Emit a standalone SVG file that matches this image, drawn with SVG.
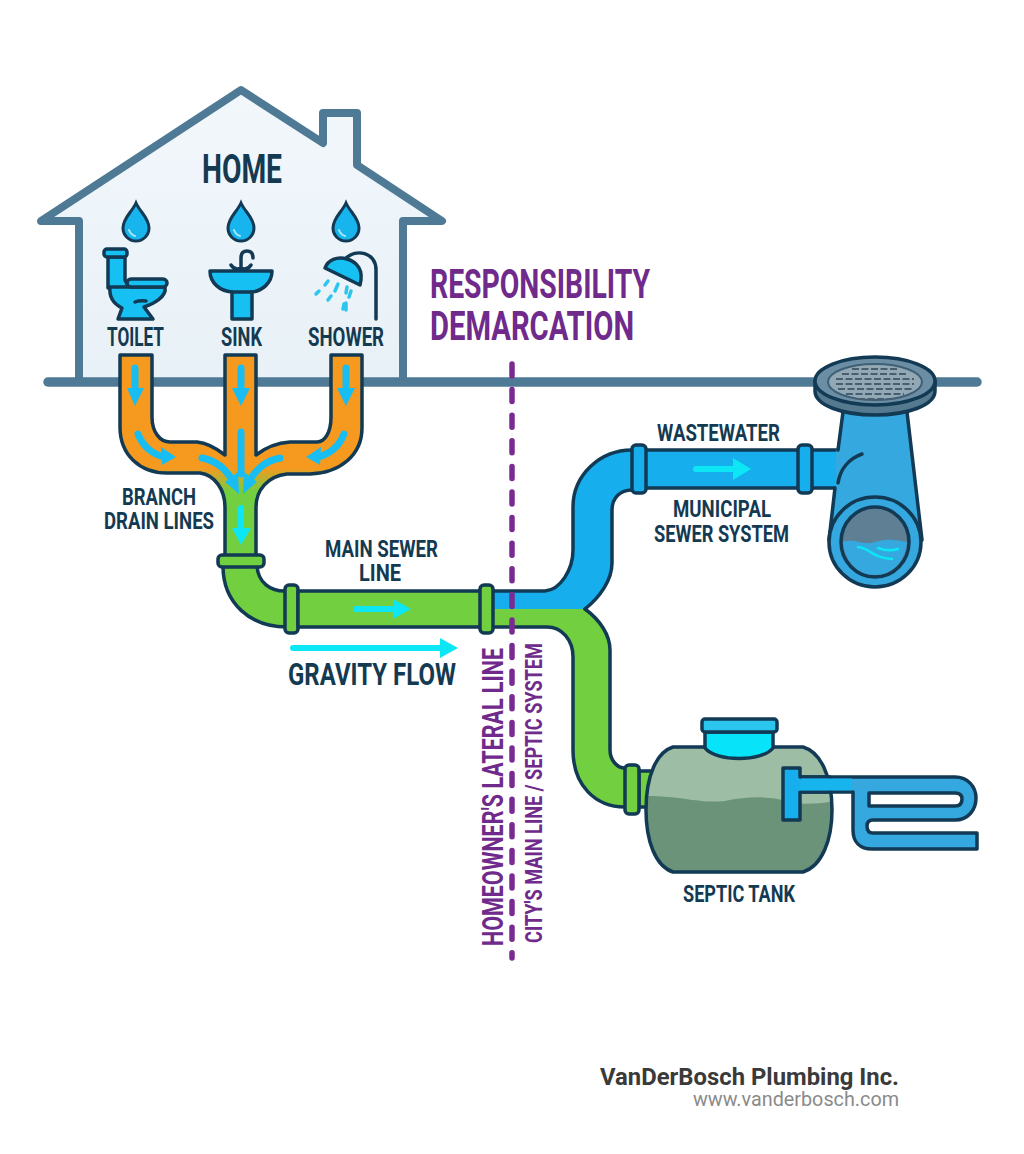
<svg xmlns="http://www.w3.org/2000/svg" width="1024" height="1154" viewBox="0 0 1024 1154">
<style>
  .ol{stroke:#123a55;stroke-width:3.5;stroke-linejoin:round;stroke-linecap:round}
  .line{fill:none;stroke:#123a55;stroke-width:3.5;stroke-linejoin:round;stroke-linecap:round}
  .lab{font-family:"Liberation Sans Narrow","Roboto","Liberation Sans",sans-serif;font-weight:700;fill:#143a52}
  .pur{font-family:"Liberation Sans Narrow","Roboto","Liberation Sans",sans-serif;font-weight:700;fill:#6f2a8c}
  .ic{fill:#17c0f2}
  .green{fill:#72cf3f}
  .blue{fill:#17aeee}
  .tip{fill:#18bdf2}
  .cy{fill:#0de6f5}
  .cyl{stroke:#0de6f5;stroke-width:6;stroke-linecap:round;fill:none}
  .bl{stroke:#18bdf2;stroke-width:7;stroke-linecap:round;fill:none}
</style>
<defs>
  <linearGradient id="drain" gradientUnits="userSpaceOnUse" x1="0" y1="468" x2="0" y2="492">
    <stop offset="0" stop-color="#f6991f"/><stop offset="1" stop-color="#72cf3f"/>
  </linearGradient>
  <linearGradient id="wall" x1="0" y1="0" x2="0" y2="1">
    <stop offset="0" stop-color="#f2f7fb"/><stop offset="1" stop-color="#e8f1f7"/>
  </linearGradient>
  <path id="drop" d="M0-19C4-10 13-4 13 6A13 13 0 0 1-13 6C-13-4-4-10 0-19Z" fill="#17b4ee" stroke="#123a55" stroke-width="3"/>
  <path id="drop-shine" d="M-7 8Q-5 13 -1 14" stroke="#a8e8fb" stroke-width="2" stroke-linecap="round" fill="none"/>
  <clipPath id="tank-shell"><path d="M673 747H803C820 752 832 775 832 810C832 840 822 866 803 872H673C655 866 646 840 646 810C646 775 657 752 673 747Z"/></clipPath>
</defs>
<rect width="1024" height="1154" fill="#fff"/>

<g id="house">
  <path d="M79 382V221H41L241 90L323 143V113H357V165L442 221H403V382Z" fill="url(#wall)" stroke="#4f7a96" stroke-width="8" stroke-linejoin="round"/>
</g>
<g id="ground">
  <path d="M48 382H977" stroke="#4f7a96" stroke-width="9.500" stroke-linecap="round" fill="none"/>
</g>
<text class="lab" x="202" y="183" font-size="40" textLength="80" lengthAdjust="spacingAndGlyphs">HOME</text>

<g id="toilet">
  <use href="#drop" x="136" y="222"/><use href="#drop-shine" x="136" y="222"/>
  <path class="ic ol" d="M108 257H125V280L129 288H108Z"/>
  <rect class="ic ol" x="104" y="249" width="23" height="8" rx="3"/>
  <path class="ic ol" d="M110 287H165C167 297 153 304 144 307L153 319H118L122 308C112 303 109 296 110 287Z"/>
  <rect class="ic ol" x="127" y="279" width="40" height="8" rx="4"/>
  <path class="line" d="M135 302Q140 300 146 301"/>
  <text class="lab" x="107" y="346" font-size="25" textLength="57" lengthAdjust="spacingAndGlyphs">TOILET</text>
</g>
<g id="sink">
  <use href="#drop" x="241" y="222"/><use href="#drop-shine" x="241" y="222"/>
  <path class="line" d="M241 271V258Q241 251 247 251Q253 251 253 258M231 265Q235 271 241 268Q247 271 251 265" stroke-width="3"/>
  <path class="ic ol" d="M210 271H272C272 283 262 291 252 292V319H232V292C220 291 210 283 210 271Z"/>
  <path class="line" d="M232 292H252"/>
  <text class="lab" x="221" y="346" font-size="25" textLength="41" lengthAdjust="spacingAndGlyphs">SINK</text>
</g>
<g id="shower">
  <use href="#drop" x="346" y="222"/><use href="#drop-shine" x="346" y="222"/>
  <path class="line" d="M376 319V270C376 252 356 248 345 259"/>
  <path class="ic ol" d="M325 268L360 285C364 270 357 262 347 259C337 256 328 260 325 268Z"/>
  <g stroke="#2cc5ee" stroke-width="3.500" stroke-linecap="round" fill="none">
    <path d="M328 281L325 285M338 284L335 291M347 287L346 293M351 291L349 297M316 294L319 291M331 296L328 300M344 304L343 309M346 303V310"/>
  </g>
  <text class="lab" x="308" y="346" font-size="25" textLength="76" lengthAdjust="spacingAndGlyphs">SHOWER</text>
</g>

<g id="responsibility-label">
  <text class="pur" x="430" y="298" font-size="41" textLength="220" lengthAdjust="spacingAndGlyphs">RESPONSIBILITY</text>
  <text class="pur" x="430" y="340" font-size="41" textLength="204" lengthAdjust="spacingAndGlyphs">DEMARCATION</text>
</g>

<g id="connectors">
  <!-- branch drains merging into the stack -->
  <path id="branch-drains" class="ol" fill="url(#drain)" d="M120 355V427C120 455 140 473 167 473H200C215 475 225 490 225 507V556H256V507C256 490 268 476 287 474H310C340 473 362 455 362 428V355H331V417C331 432 325 442 317 442H290C275 443 265 448 256 455V355H225V455C216 448 208 443 197 442H170C160 442 152 432 152 417V355Z"/>
  <g id="elbow">
    <path class="green ol" d="M223 566C223 603 250 627 287 627V591C270 592 258 582 257 566Z"/>
    <rect class="green ol" x="218" y="555" width="46" height="12" rx="4"/>
    <rect class="green ol" x="285" y="585" width="13" height="48" rx="4"/>
  </g>
  <path id="main-sewer" class="green ol" d="M298 591H481V627H298Z"/>
  <!-- the city line splits into two branches at the tee: fills first, outlines after -->
  <path class="blue" d="M492 591H545C560 590 573 570 573 550V507C573 475 600 450 632 450V490C620 490 612 498 612 510V563C612 580 600 597 585 609H492Z"/>
  <path class="green" d="M492 609H585C600 620 610 635 610 650V750C610 760 617 768 625 768V807C595 807 573 785 573 750V657C573 640 562 627 547 627H492Z"/>
  <path id="city-pipe" class="line" d="M492 591H545C560 590 573 570 573 550V507C573 475 600 450 632 450M632 490C620 490 612 498 612 510V563C612 580 600 597 585 609"/>
  <path id="septic-pipe" class="line" d="M585 609C600 620 610 635 610 650V750C610 760 617 768 625 768M625 807C595 807 573 785 573 750V657C573 640 562 627 547 627H492"/>
  <path class="blue" d="M646 450H842V488H646Z"/>
  <path id="municipal-run" class="line" d="M646 450H838M646 488H835"/>
  <rect class="blue ol" x="632" y="445" width="14" height="48" rx="4"/>
  <rect class="blue ol" x="798" y="445" width="14" height="48" rx="4"/>
  <rect class="green ol" x="480" y="585" width="13" height="48" rx="4"/>
  <path class="green ol" d="M639 771H652V807H639Z"/>
  <rect class="green ol" x="625" y="765" width="14" height="49" rx="4"/>
  <!-- flow arrows -->
  <g id="arrows">
    <path class="bl" d="M135 368V388M241 368V388M346 368V388M241 432V474M138 434Q145 452 164 457M344 434Q337 452 318 457M202 458Q222 462 232 480M280 458Q260 462 250 480"/>
    <path class="tip" d="M127 388H144L135 406ZM232 388H250L241 406ZM337 388H355L346 406ZM161 447L176 457L162 465ZM321 447L306 457L320 465ZM225 482L238 472L239 494ZM257 482L244 472L243 494Z"/>
    <path class="cyl" d="M241 508V528M356 609H393M696 469H733M293 648H440"/>
    <path class="cy" d="M232 528H251L241 545ZM393 599L411 609L393 619ZM733 458L751 469L733 480ZM440 638L458 648L440 658Z"/>
  </g>
</g>

<g id="demarcation">
  <path d="M512 364V958" stroke="#7a2b92" stroke-width="5.500" stroke-linecap="round" stroke-dasharray="12 13.600" fill="none"/>
</g>

<g id="sewer">
  <path fill="#35a9df" d="M843 412L836 452V487L829 540C829 566 850 587 875 587C902 587 922 566 922 540L907 412Z"/>
  <path class="line" d="M843 412L838 450M835 488L829 540M907 412L922 540"/>
  <path class="line" d="M862 454C848 459 840 470 838 483"/>
  <ellipse class="ol" cx="875" cy="542" rx="46" ry="45" fill="#35a9df"/>
  <ellipse class="ol" cx="875" cy="542" rx="34" ry="35" fill="#5f7f94"/>
  <path d="M843 542C855 538 862 546 875 542S897 540 907 542C905 562 892 575 875 575C858 575 845 562 843 542Z" fill="#35a9df"/>
  <path d="M858 547C870 548 872 558 892 559M878 548Q888 552 898 549" stroke="#0de6f5" stroke-width="2.500" stroke-linecap="round" fill="none"/>
  <path class="ol" fill="#55798f" d="M815 381V391C815 405 842 415 875 415S935 405 935 391V381Z"/>
  <ellipse class="ol" cx="875" cy="381" rx="60" ry="24" fill="#6c8ea5"/>
  <ellipse cx="875" cy="382" rx="47" ry="18" fill="#93a8b5" stroke="#3f5f75" stroke-width="2"/>
  <g stroke="#465e6f" stroke-width="2.200" stroke-dasharray="7 2.500" fill="none">
    <path d="M852 369H898M842 374H908M836 379H914M836 384H914M838 389H912M846 394H904M858 399H892"/>
  </g>
</g>
<text class="lab" x="657" y="441" font-size="24" textLength="123" lengthAdjust="spacingAndGlyphs">WASTEWATER</text>
<text class="lab" x="673" y="517" font-size="24" textLength="98" lengthAdjust="spacingAndGlyphs">MUNICIPAL</text>
<text class="lab" x="654" y="542" font-size="24" textLength="135" lengthAdjust="spacingAndGlyphs">SEWER SYSTEM</text>

<g id="septic-tank">
  <path fill="#9dbda4" d="M673 747H803C820 752 832 775 832 810C832 840 822 866 803 872H673C655 866 646 840 646 810C646 775 657 752 673 747Z"/>
  <path clip-path="url(#tank-shell)" fill="#6b9379" d="M640 796C680 795 700 804 725 801C750 796 770 796 790 802C805 805 820 804 840 800V880H640Z"/>
  <path class="line" d="M673 747H803C820 752 832 775 832 810C832 840 822 866 803 872H673C655 866 646 840 646 810C646 775 657 752 673 747Z"/>
  <path class="ol" fill="#07e3f8" d="M705 732H773V748C762 762 716 762 705 748Z"/>
  <rect class="ol" x="702" y="719" width="75" height="13" rx="3" fill="#2cc5ee"/>
  <path class="ol" fill="#35a9df" fill-rule="evenodd" d="M800 777H955C968 777 976 787 976 798C976 810 968 820 955 820H873C868 820 867 823 867 826C867 830 868 833 873 833H977V849H872C860 849 853 842 853 830V792H800ZM869 793V806H955C960 806 962 803 962 799C962 795 960 793 955 793Z"/>
  <path class="ol" fill="#17aeee" d="M783 768H800V777H830V792H800V820H783Z"/>
  <path d="M801 778.500H852V790.500H799Z" fill="#17b4ee"/>
</g>
<text class="lab" x="683" y="902" font-size="24" textLength="112" lengthAdjust="spacingAndGlyphs">SEPTIC TANK</text>

<text class="lab" x="122" y="505" font-size="24" textLength="74" lengthAdjust="spacingAndGlyphs">BRANCH</text>
<text class="lab" x="104" y="529" font-size="24" textLength="110" lengthAdjust="spacingAndGlyphs">DRAIN LINES</text>
<text class="lab" x="325" y="557" font-size="24" textLength="113" lengthAdjust="spacingAndGlyphs">MAIN SEWER</text>
<text class="lab" x="359" y="581" font-size="24" textLength="42" lengthAdjust="spacingAndGlyphs">LINE</text>
<text class="lab" x="288" y="685" font-size="32" textLength="168" lengthAdjust="spacingAndGlyphs">GRAVITY FLOW</text>

<g id="boundary-labels">
  <text class="pur" transform="translate(503 946) rotate(-90)" font-size="29" textLength="298" lengthAdjust="spacingAndGlyphs">HOMEOWNER'S LATERAL LINE</text>
  <text class="pur" transform="translate(542 943) rotate(-90)" font-size="24" textLength="300" lengthAdjust="spacingAndGlyphs">CITY'S MAIN LINE / SEPTIC SYSTEM</text>
</g>

<g id="footer">
  <text x="600" y="1085" font-family="Roboto,'Liberation Sans',sans-serif" font-weight="700" font-size="23.500" fill="#3a3a3a" textLength="299" lengthAdjust="spacingAndGlyphs">VanDerBosch Plumbing Inc.</text>
  <text x="693" y="1106" font-family="Roboto,'Liberation Sans',sans-serif" font-size="19.500" fill="#8a8a8a" textLength="206" lengthAdjust="spacingAndGlyphs">www.vanderbosch.com</text>
</g>
</svg>
